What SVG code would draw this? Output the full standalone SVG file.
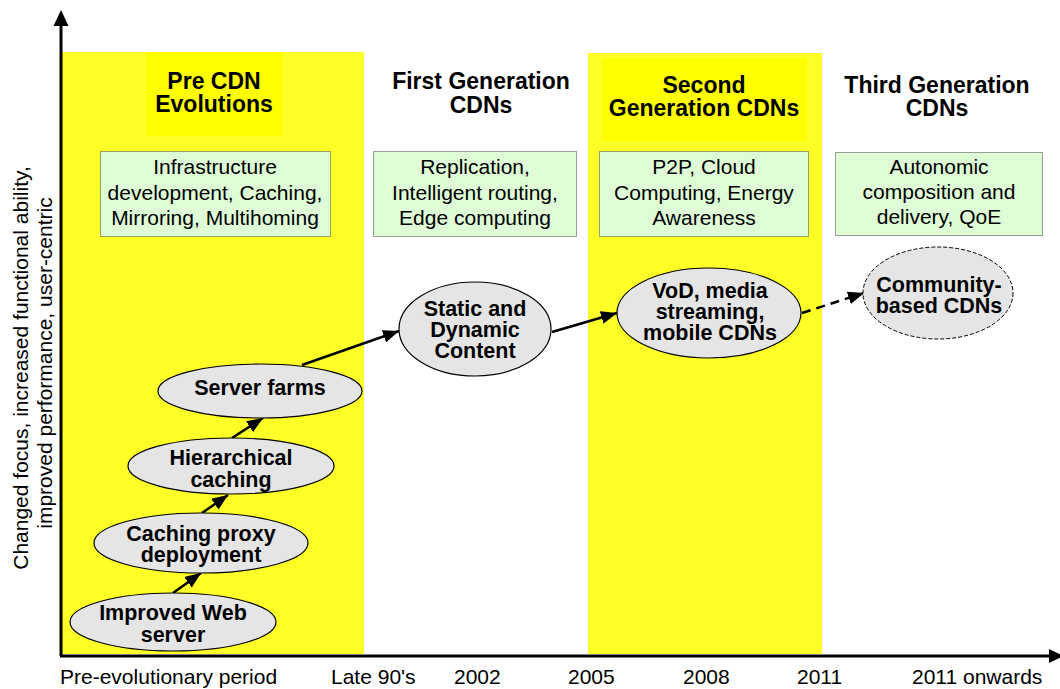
<svg xmlns="http://www.w3.org/2000/svg" width="1060" height="689" viewBox="0 0 1060 689">
<defs>
<style>
.band{fill:#FFFF28;}
.tbox{fill:#FFFF00;}
.title{font-family:"Liberation Sans",Arial,sans-serif;font-size:23px;font-weight:bold;fill:#000;text-anchor:middle;}
.gbox{fill:#DEFCD6;stroke:#444;stroke-width:1;stroke-dasharray:1 1;}
.gtext{font-family:"Liberation Sans",Arial,sans-serif;font-size:21px;fill:#000;text-anchor:middle;}
.ell{fill:#E5E5E5;stroke:#000;stroke-width:1.2;}
.elld{fill:#E5E5E5;stroke:#000;stroke-width:1;stroke-dasharray:4 2;}
.etext{font-family:"Liberation Sans",Arial,sans-serif;font-size:21.5px;font-weight:bold;fill:#000;text-anchor:middle;}
.axlabel{font-family:"Liberation Sans",Arial,sans-serif;font-size:21px;fill:#000;}
.conn{stroke:#000;stroke-width:2.5;fill:none;marker-end:url(#arr);}
.axis{stroke:#000;stroke-width:3;fill:none;}
</style>
<marker id="arr" markerUnits="userSpaceOnUse" markerWidth="17" markerHeight="13" refX="16" refY="6.5" orient="auto">
<path d="M0,0 L16,6.5 L0,13 z" fill="#000"/>
</marker>
</defs>
<rect width="1060" height="689" fill="#fff"/>

<g id="bands">
<rect class="band" x="61" y="52" width="303" height="602"/>
<rect class="band" x="588" y="53" width="234" height="601"/>
<rect class="tbox" x="146" y="52" width="137" height="84"/>
<rect class="tbox" x="602" y="58" width="205" height="83"/>
</g>

<g id="axes">
<line class="axis" x1="61" y1="656" x2="61" y2="22"/>
<path d="M61,10 L68.5,26 L53.5,26 z" fill="#000"/>
<line class="axis" x1="60" y1="656" x2="1050" y2="656"/>
<path d="M1064,656 L1049,649 L1049,663 z" fill="#000"/>
</g>

<g id="y-label" class="axlabel" text-anchor="middle">
<text transform="translate(28,368) rotate(-90)">Changed focus, increased functional ability,</text>
<text transform="translate(52,363) rotate(-90)">improved performance, user-centric</text>
</g>

<g id="x-labels" class="axlabel">
<text x="60" y="684">Pre-evolutionary period</text>
<text x="331" y="684">Late 90's</text>
<text x="454" y="684">2002</text>
<text x="568" y="684">2005</text>
<text x="683" y="684">2008</text>
<text x="797" y="684">2011</text>
<text x="912" y="684">2011 onwards</text>
</g>

<g id="title-pre">
<text class="title" x="214" y="89">Pre CDN</text>
<text class="title" x="214" y="112">Evolutions</text>
</g>
<g id="title-first">
<text class="title" x="481" y="89">First Generation</text>
<text class="title" x="481" y="113">CDNs</text>
</g>
<g id="title-second">
<text class="title" x="704" y="93">Second</text>
<text class="title" x="704" y="116">Generation CDNs</text>
</g>
<g id="title-third">
<text class="title" x="937" y="93">Third Generation</text>
<text class="title" x="937" y="116">CDNs</text>
</g>

<g id="box-pre">
<rect class="gbox" x="100.5" y="151.5" width="230" height="85"/>
<text class="gtext" x="215" y="174">Infrastructure</text>
<text class="gtext" x="215" y="200">development, Caching,</text>
<text class="gtext" x="215" y="225">Mirroring, Multihoming</text>
</g>
<g id="box-first">
<rect class="gbox" x="373.5" y="151.5" width="203" height="85"/>
<text class="gtext" x="475" y="174">Replication,</text>
<text class="gtext" x="475" y="200">Intelligent routing,</text>
<text class="gtext" x="475" y="225">Edge computing</text>
</g>
<g id="box-second">
<rect class="gbox" x="599.5" y="151.5" width="209" height="85"/>
<text class="gtext" x="704" y="174">P2P, Cloud</text>
<text class="gtext" x="704" y="200">Computing, Energy</text>
<text class="gtext" x="704" y="225">Awareness</text>
</g>
<g id="box-third">
<rect class="gbox" x="835.5" y="152.5" width="207" height="83"/>
<text class="gtext" x="939" y="174">Autonomic</text>
<text class="gtext" x="939" y="199">composition and</text>
<text class="gtext" x="939" y="224">delivery, QoE</text>
</g>

<g id="connectors">
<line class="conn" x1="173" y1="593" x2="201" y2="573"/>
<line class="conn" x1="202" y1="513" x2="228" y2="495"/>
<line class="conn" x1="232" y1="438" x2="263" y2="418"/>
<line class="conn" x1="302" y1="365" x2="399" y2="331"/>
<line class="conn" x1="552" y1="332" x2="617" y2="313"/>
<line class="conn" x1="802" y1="313" x2="864" y2="293" stroke-dasharray="9 6"/>
</g>

<g id="node-improved-web">
<ellipse class="ell" cx="173" cy="622" rx="103" ry="29"/>
<text class="etext" x="173" y="620">Improved Web</text>
<text class="etext" x="173" y="642">server</text>
</g>
<g id="node-caching-proxy">
<ellipse class="ell" cx="201" cy="543" rx="107" ry="30"/>
<text class="etext" x="201" y="541">Caching proxy</text>
<text class="etext" x="201" y="562">deployment</text>
</g>
<g id="node-hierarchical">
<ellipse class="ell" cx="231" cy="466" rx="103" ry="28"/>
<text class="etext" x="231" y="465">Hierarchical</text>
<text class="etext" x="231" y="487">caching</text>
</g>
<g id="node-server-farms">
<ellipse class="ell" cx="260" cy="391" rx="102" ry="27"/>
<text class="etext" x="260" y="395">Server farms</text>
</g>
<g id="node-static-dynamic">
<ellipse class="ell" cx="475" cy="329" rx="76" ry="47"/>
<text class="etext" x="475" y="316">Static and</text>
<text class="etext" x="475" y="337">Dynamic</text>
<text class="etext" x="475" y="358">Content</text>
</g>
<g id="node-vod">
<ellipse class="ell" cx="709" cy="313" rx="92" ry="45"/>
<text class="etext" x="710" y="298">VoD, media</text>
<text class="etext" x="710" y="319">streaming,</text>
<text class="etext" x="710" y="340">mobile CDNs</text>
</g>
<g id="node-community">
<ellipse class="elld" cx="938" cy="293" rx="75" ry="46"/>
<text class="etext" x="939" y="292">Community-</text>
<text class="etext" x="939" y="313">based CDNs</text>
</g>
</svg>
